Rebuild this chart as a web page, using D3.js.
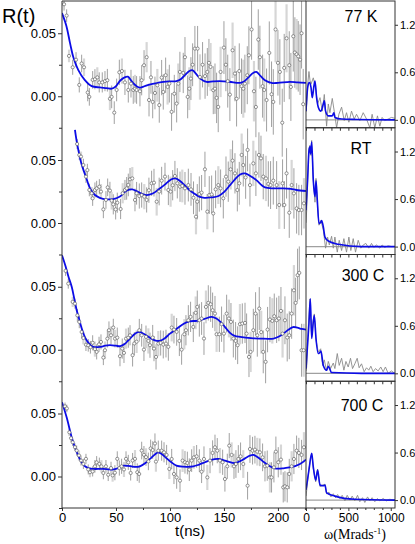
<!DOCTYPE html>
<html>
<head>
<meta charset="utf-8">
<script src="https://cdn.jsdelivr.net/npm/d3@7"></script>
<style>
  body { margin: 0; background: #fff; }
  svg { display: block; font-family: Arial, "Liberation Sans", sans-serif; }
</style>
</head>
<body>
<div id="chart"></div>
<script>
// sample labels, one per stacked row
const samples = ['77 K', 'RT', '300 C', '700 C']

// R(t) data points: [t (ns), R x 1000, error x 1000]
const pts77 = [[1.9,73,5],[4.3,64,5],[6.5,32,5],[9.9,23,6],[13,29,6],[16,9,6],[18.2,26,7],[20.4,23,7],[23.8,3,7],[25.3,-0.5,7],[28.4,13,7],[30.5,13.5,8],[32.7,15,8],[34.5,11,8],[37.3,11,8],[39.8,12,8],[42,12.7,9],[44.4,-2,9],[46,-0.5,9],[48.4,-13,9],[50.6,5,9],[53.1,19,10],[55.5,20,10],[58.3,11,10],[61.4,5,10],[63.9,10,11],[66,5,11],[67.6,6,11],[69.1,5,11],[72.2,4,12],[73.8,12.7,12],[76,24.6,12],[78.4,31,12],[80.6,-3,13],[82.4,15,13],[84,-4.5,13],[86.1,2.6,13],[88.3,8.7,13],[90.1,-7,14],[92.3,14.8,14],[93.8,3.4,14],[96,16.7,14],[97.8,7.4,14],[99.4,10,15],[101.5,-12.4,15],[104,2,15],[106.2,-5.8,15],[107.7,10,16],[109.2,19.3,16],[112.3,18.5,16],[113.9,31,16],[116.4,-0.5,17],[117.9,6,17],[119.4,14,17],[121,25,17],[123.1,37.8,18],[125.6,37.8,18],[127.8,15.3,18],[130.2,25,18],[132.5,16,18],[134.6,19.3,19],[136.1,26.5,19],[137.6,23.3,19],[140.1,4.8,19],[141.7,6,20],[143.2,-1.3,20],[144.7,-8.5,20],[146.9,19.3,20],[150,38.6,21],[151.8,25,21],[153.5,12,21],[155.5,1.3,21],[158,36.5,22],[160.2,18,22],[161.7,-2,22],[164.2,20,22],[166.3,8,22],[167.9,6,23],[169.4,10,23],[171.6,16.7,23],[173.1,32.5,23],[175.6,53,24],[177.8,4,24],[179.6,-8.5,24],[181.8,45,24],[183.3,31,25],[185.8,8,25],[187.3,5,25],[189.5,-3,25],[192,34.4,25],[194.1,1.6,26],[195.7,-4.5,26],[197.8,53,26],[200,26.5,26],[201.8,19.3,26],[204,-21,27],[205.8,22.5,27],[208,46,27],[210.5,24.6,27],[212,7.4,27],[214.2,47.6,28],[215.7,34.7,28],[217.3,33.3,28],[218.8,31.7,28],[220.5,29,28],[221.9,50,28],[223.4,-6.3,28]]
const ptsRT = [[14,62.7,4],[16,54,4],[17.6,52.7,4],[19.8,46,5],[22.2,36.8,5],[23.5,42,5],[25.3,26.2,5],[27.5,23.6,5],[28.4,19.6,6],[30.5,26.2,6],[32.1,27.5,6],[34.6,28.8,6],[36.1,24.9,6],[38.3,10.8,7],[40.7,18.3,7],[42.3,28.3,7],[44.4,25.7,7],[46,17.7,7],[47.5,14.8,8],[49.7,10.8,8],[51.2,16.1,8],[54.3,11.1,8],[56.2,23.6,8],[58.3,26.2,8],[59.9,27.5,9],[61.4,30.2,9],[63,34.7,9],[65.1,35.4,9],[67.6,18.3,9],[69.1,23.6,9],[71.6,21.4,10],[73.8,22.2,10],[76.2,20.9,10],[78.4,18.3,10],[80.5,26,10],[83,31.5,10],[85.2,32,11],[87.7,16.9,11],[90,25,11],[92.3,33.6,11],[95.4,36.8,11],[98.5,26.2,12],[100.6,24.9,12],[102.5,30,12],[104.6,37.3,12],[106.8,31.5,12],[109.3,28.8,12],[111.4,29.4,13],[113.9,27.5,13],[117,30.1,13],[119.5,26.7,13],[121.8,20,13],[124.1,5,14],[125.3,16.9,14],[127.2,23,14],[129.3,24.1,14],[132.4,42.6,14],[134.6,9,14],[136.4,22.2,15],[138.6,22.7,15],[140.1,7.6,15],[142.3,26.7,15],[144.8,30.1,15],[146.9,27.5,15],[149.4,19.6,16],[151.9,36.8,16],[154,32.8,16],[156.2,42.6,16],[158,49.5,16],[160.2,39.4,16],[162.4,26.2,17],[164.2,31.5,17],[166.4,54,17],[167.9,46,17],[170.1,36.2,17],[171.9,58,17],[174.1,30.1,17],[177.2,47.3,18],[179.6,39.4,18],[182.4,54,18],[184.3,51.3,18],[186.4,36.8,18],[188.9,35.4,18],[191.1,31,18],[193.2,30.1,19],[195.7,33.6,19],[198.8,30.1,19],[201.2,14.3,19],[204.3,31.5,19],[205.9,14.3,19],[208,39.4,20],[210.5,8.2,20],[212.7,30.1,20],[214.8,23.5,20],[217.3,11.6,20],[219.4,10.3,20],[221.9,10.3,20],[224.1,15.6,20]]
const pts300 = [[3.3,62.6,4],[5.8,52.5,4],[9.9,38,4],[12,36.6,4],[14.2,27.3,5],[16,22.1,5],[18.2,14.1,5],[19.8,9.3,5],[22.2,4,5],[24.3,3.5,5],[26.3,2,5],[28.4,5.5,6],[30.5,0.5,6],[32.1,-1.7,6],[34.3,4.3,6],[36.1,6.2,6],[38.3,-6.2,6],[39.8,-0.4,7],[42,8.8,7],[43.5,15.5,7],[45.4,11.5,7],[47.5,17.6,7],[49.1,8.8,7],[51.2,9.6,8],[53.7,-5.1,8],[55.8,0.9,8],[57.4,-2.5,8],[59.3,8.8,8],[61.4,9.6,8],[63,11.5,8],[65.4,-4.3,9],[67,5,9],[69.1,6.4,9],[71.6,15.5,9],[73.8,11.5,9],[75.9,0.1,9],[77.8,10.2,9],[80,7,10],[81.5,3.6,10],[84,9.7,10],[85.2,0.9,10],[87.1,-5.7,10],[89.2,4.9,10],[91.4,5.4,10],[93.8,4.1,11],[96.3,4.9,11],[98.5,2.3,11],[101.6,17.6,11],[103.7,16,11],[106.2,14.2,11],[108.7,7,12],[110.8,0.1,12],[113.3,12.3,12],[114.8,15.5,12],[117,23.4,12],[119.1,26.1,12],[121.6,18.1,12],[123.8,29.3,13],[125.3,34,13],[127.2,23.4,13],[129.3,24.8,13],[131.5,8.9,13],[133.3,34,13],[135.5,37.2,14],[137.7,36.1,14],[139.5,31.4,14],[141.7,28.7,14],[143.2,12.3,14],[145.7,12.3,14],[147.8,20.3,14],[150,12.8,15],[152.5,28.7,15],[154.6,24.8,15],[156.5,22.1,15],[158.7,8.9,15],[160.8,7,15],[162.7,3.6,15],[164.8,20.3,16],[167,20.8,16],[169.5,21.3,16],[171,12.8,16],[173.2,-5.7,16],[174.7,-1.7,16],[177.2,15.5,17],[179.3,28.7,17],[180.9,11.5,17],[182.7,32.7,17],[184.5,14,17],[186.4,-1.7,17],[188.6,-9.6,17],[190.4,16,18],[192.6,24,18],[194.8,22.9,18],[196.6,26.6,18],[198.8,23.4,18],[200.9,24.8,18],[202.8,30.8,19],[204.3,12.8,19],[206.5,23.4,19],[208.6,9.7,19],[210.5,11.5,19],[212.7,28.7,20],[214.8,47.2,20],[216.4,37.2,20],[218.2,59.2,21],[219.8,61,21],[221.9,-0.4,21],[223.8,-0.4,21]]
const pts700 = [[2.8,55.7,3],[4.5,54,3],[6.8,35.1,3],[8.4,30.4,3],[9.9,27.2,3],[12,23.3,3],[13.6,20.6,4],[15.7,16.7,4],[17.6,12.7,4],[19.8,10,4],[22.2,14,4],[24.3,5.6,4],[25.9,3.4,4],[28.4,4,4],[30.5,8.1,5],[32.1,11.2,5],[34.6,10,5],[36.5,8,5],[38.3,2.8,5],[40.7,8.1,5],[42.8,1.4,5],[45.4,6.7,5],[46.9,0.9,5],[49,3,6],[51.2,14,6],[53.1,6.7,6],[55.2,8.1,6],[57.4,5.6,6],[59.3,14,6],[61.4,11.2,6],[63.6,2.8,6],[65.4,12.7,6],[67.6,14,7],[69.7,3.4,7],[71.5,2,7],[73.8,20.6,7],[75.9,17.2,7],[77.8,15.4,7],[80,12,7],[82.1,22.3,7],[84,21,7],[86.1,26.2,8],[87,11.8,8],[89.2,20.5,8],[92.3,20.5,8],[94.5,19.2,8],[96.9,17.1,8],[99.4,6,8],[101.6,13.9,8],[103.7,2,8],[106.2,-0.7,9],[109.3,-3.3,9],[111.7,12.6,9],[113.9,11.3,9],[116.1,10.7,9],[117.9,5.4,9],[120.1,12.6,9],[122.2,15.2,9],[124.7,16,9],[127.2,12.6,9],[129.3,3.8,9],[131.5,13.9,10],[134.6,-0.7,10],[137.1,12.6,10],[139.5,18.7,10],[141.7,23.2,10],[143.8,20.5,10],[146.3,12.6,10],[148.8,11.3,10],[150.9,-2,10],[153.1,8.1,10],[154.9,24.5,10],[157.1,17.1,10],[159.3,8.1,10],[161.1,9.9,11],[163.3,13.9,11],[165.4,16,11],[167.9,9.9,11],[171.9,-7.3,11],[174.1,21.8,11],[176.5,20.5,11],[178.7,21.3,11],[180.9,19.7,11],[183.3,19.2,11],[185.8,15.2,11],[188,8.1,12],[190.1,8.6,12],[192.6,-0.7,12],[194.1,-0.7,12],[196.3,7.3,12],[198.1,19.7,12],[200.3,11.3,12],[202.8,13.4,12],[204.9,-8.6,12],[206.5,-7.8,12],[208.6,-8.6,12],[210.5,2,12],[212.7,8.1,12],[214.8,13.9,12],[217.3,20.5,12],[219.4,18.7,12],[221.9,17.1,12],[224.1,23.2,12]]

// fitted R(t) curves: [t, R x 1000]
const fit77 = [[0,66],[4,56],[7.5,42],[10.5,31],[15,21],[21,13],[27.5,8],[35,7],[41,6.5],[46,6],[49.5,7.5],[54,12.5],[58,15],[61,15.5],[64,12.5],[67,9.5],[71,7],[74,7.2],[78,8.5],[82,9.5],[88,10.5],[94,11.4],[100,11.8],[106,12],[110,13.5],[114,17],[118,20],[121,20.6],[124,18],[128,14],[134,11.4],[140,11.8],[146,12],[155,11.5],[165,10.6],[169,12],[173,15.3],[177,18.5],[180,19.3],[184,16],[188,12.7],[194,10.6],[200,10.6],[211,11.4],[218,11],[226,10.6]]
const fitRT = [[12,74],[14,63],[18,47],[22,37],[26,27.5],[30.5,22.2],[35,20],[41,18.8],[47.5,19],[53.7,21],[58,24.5],[62,26.5],[65,26.7],[69,25.3],[72,24],[78,22.2],[84,23.4],[90,27],[96,31],[101,34.5],[105,35.4],[109,33.5],[113,30.5],[117,27],[122,23.6],[127,21],[132,20],[138,20.3],[145,21.4],[150,24.5],[155.6,30],[160,34.5],[165,38.5],[169.5,39.4],[174,37.5],[180,34],[185,30],[188,28.3],[195,27.5],[205,27.5],[212,27],[217,26.2],[226,25.4]]
const fit300 = [[0,75],[3.5,65.7],[6,58],[9,50],[11.5,40],[13.6,31.3],[16,24],[18.2,17],[20.5,11.5],[22.8,7.5],[26,4],[29,2.2],[35,2.2],[40,3.2],[44.4,3.6],[50,3.2],[54,2.8],[58,4.5],[61.4,7.5],[66,11.5],[69,13.5],[72,14.1],[76,12.5],[81.5,9.5],[86,7.5],[90,7],[95,9],[100,12.8],[106,16.5],[112,20.3],[118,22.5],[125,23],[132,24.5],[138.6,26.1],[143,24.8],[147,22],[151,18],[155.6,13.4],[160,11],[165,10.2],[175,9.2],[183,8.9],[196,8.9],[201,10.5],[205,12.8],[210,16],[214,18],[218,17.5],[222,16.5],[226,16]]
const fit700 = [[0,59],[4.3,47],[9,31],[12,23],[15.1,16.5],[18,11.5],[21.3,8.1],[25,6.5],[28.9,6],[38,6],[44,5.6],[48,5.6],[53,7],[57,8.6],[61,8.4],[64.4,8],[68,7.6],[72.2,8.1],[77,10.5],[81.5,14],[86,17.5],[89.2,19.2],[93,17.5],[97,14.4],[101,11.5],[106,8.6],[112,7.8],[121.6,8.1],[127,9.5],[132.4,11.3],[139,13.4],[144.8,13.9],[150,12.8],[154,11.8],[160,10.7],[165,12.2],[169.5,14.4],[174,16.5],[177.2,17.1],[181,15.5],[186.4,11.8],[191,9],[197,6.5],[205,6.5],[211,7.3],[216,8.3],[220.4,9.9],[226,13.4]]

// frequency spectra: [omega (Mrad/s), amplitude]
const ftData77 = [[0,0.1],[8,0.2],[20,0.45],[35,0.61],[47,0.5],[59,0.45],[86,0.53],[114,0.39],[137,0.2],[165,0.28],[192,0.11],[216,0.32],[243,-0.08],[263,0.2],[282,0.09],[310,0.27],[333,0.11],[361,-0.1],[388,0.07],[420,0.16],[451,-0.01],[478,0.09],[506,-0.03],[537,0.11],[569,0.01],[596,0.07],[635,-0.01],[675,0.09],[714,0.01],[753,-0.1],[780,0.07],[812,-0.1],[843,0.05],[871,-0.08],[898,0.03],[929,-0.01],[969,0.01],[1008,0.03],[1047,0.02]]
const ftFit77 = [[0,0.11],[20,0.41],[39,0.47],[59,0.41],[74,0.28],[94,0.43],[106,0.49],[125,0.28],[145,0.16],[176,0.11],[204,0.2],[216,0.24],[231,0.11],[263,0.05],[310,0.05],[329,0.09],[341,0.03],[420,0.01],[600,0.005],[1050,0]]
const ftDataRT = [[0,0.3],[8,0.46],[20,0.88],[35,1.24],[47,1.28],[59,1.15],[67,1.34],[86,0.84],[106,0.56],[118,0.86],[133,0.56],[153,0.27],[176,0.33],[204,0.21],[231,-0.02],[255,0.12],[275,0.02],[302,0.13],[322,-0.02],[341,0.12],[369,-0.07],[392,0.08],[420,-0.05],[447,0.1],[478,-0.07],[506,0.12],[529,-0.05],[557,0.1],[584,-0.07],[616,0.08],[647,-0.02],[675,0.02],[706,0.04],[741,-0.02],[773,0.04],[800,-0.01],[831,0.02],[871,-0.02],[898,0.02],[929,-0.01],[969,0.01],[1008,0],[1047,0]]
const ftFitRT = [[0,0.46],[19,0.84],[35,1.21],[47,1.26],[55,1.17],[67,1.32],[86,0.84],[106,0.63],[118,0.83],[133,0.59],[153,0.29],[170,0.3],[184,0.33],[204,0.25],[224,0.12],[263,0.07],[380,0.03],[655,0],[1050,0]]
const ftData300 = [[0,0.03],[8,0.08],[27,0.59],[47,0.94],[67,0.46],[86,0.67],[98,0.75],[118,0.42],[145,0.27],[173,0.31],[196,0.1],[216,0.17],[243,0.03],[263,0.15],[290,0.06],[322,0.13],[341,0.06],[369,0.25],[392,0.1],[420,0.19],[447,0.04],[471,0.15],[498,0.08],[525,0.19],[549,0.06],[576,0.12],[604,0.19],[627,0.07],[655,0.12],[686,0.02],[714,0.07],[741,0.04],[765,0.09],[792,0.02],[820,0.06],[851,0.03],[882,0.08],[910,0.02],[937,0.08],[969,0],[1008,0.03],[1047,0]]
const ftFit300 = [[0,0.06],[35,0.63],[51,0.94],[67,0.44],[86,0.65],[98,0.73],[118,0.44],[145,0.25],[160,0.26],[176,0.28],[204,0.1],[243,0.04],[263,0.09],[302,0.01],[655,0],[1050,0]]
const ftData700 = [[0,0.05],[8,0.12],[35,0.4],[67,0.59],[86,0.4],[114,0.23],[137,0.39],[165,0.17],[196,0.19],[224,0.2],[243,0.08],[271,0.1],[294,0.04],[322,0.08],[349,0.03],[373,0.07],[400,0.02],[427,0.06],[459,-0.01],[486,0.06],[518,0],[545,0.05],[576,-0.01],[608,0.06],[635,-0.02],[667,0.03],[694,-0.03],[726,0.04],[753,-0.01],[780,0.03],[812,-0.02],[843,0.02],[871,-0.01],[910,0.02],[949,-0.01],[988,0.01],[1047,0]]
const ftFit700 = [[0,0.13],[35,0.38],[67,0.59],[86,0.42],[114,0.25],[137,0.38],[165,0.19],[204,0.18],[224,0.19],[243,0.09],[341,0.05],[576,0.01],[1050,0]]

// ticks
const tTicks = [0, 50, 100, 150, 200]
const tMinor = [25, 75, 125, 175, 225]
const rTicks = [0, 0.05]
const rMinor = [-0.025, 0.025]
const wTicks = [0, 500, 1000]
const wMinor = [100, 200, 300, 400, 600, 700, 800, 900]
const ampTicks = [0, 0.6, 1.2]

const rows = [
  {name: samples[0], pts: pts77, fit: fit77, ft: ftData77, ftFit: ftFit77, lx: 361, ly: 22},
  {name: samples[1], pts: ptsRT, fit: fitRT, ft: ftDataRT, ftFit: ftFitRT, lx: 361, ly: 154},
  {name: samples[2], pts: pts300, fit: fit300, ft: ftData300, ftFit: ftFit300, lx: 363, ly: 281},
  {name: samples[3], pts: pts700, fit: fit700, ft: ftData700, ftFit: ftFit700, lx: 362, ly: 411}
]

const svgW = 415
const svgH = 544
const xLeft = 62
const xMid = 306
const xRight = 395
const yTop = 1
const yBottom = 508
const bandH = (yBottom - yTop) / rows.length
const axisColor = '#333'
const blue = '#0c0ce6'

const svg = d3.select('#chart')
  .append('svg')
  .attr('width', svgW)
  .attr('height', svgH)

const x = d3.scaleLinear().domain([0, 226]).range([xLeft, xMid])
const w = d3.scaleLinear().domain([0, 1050]).range([xMid, xRight])

const defs = svg.append('defs')
defs.append('clipPath').attr('id', 'clip-left')
  .append('rect')
  .attr('x', xLeft).attr('y', yTop)
  .attr('width', xMid - xLeft).attr('height', yBottom - yTop)

const styleAxis = (g, size) => {
  g.attr('color', axisColor)
    .attr('font-size', size)
    .attr('font-family', 'Arial, "Liberation Sans", sans-serif')
  g.select('.domain').remove()
  g.selectAll('text').attr('fill', '#000')
}

rows.forEach((row, i) => {
  const y0 = yTop + i * bandH
  const y = d3.scaleLinear().domain([-0.025, 0.0756]).range([y0 + bandH, y0])
  const ya = d3.scaleLinear().domain([-0.1, 1.5]).range([y0 + bandH, y0])

  // left: R(t)
  const gl = svg.append('g').attr('clip-path', 'url(#clip-left)')

  gl.append('g')
    .selectAll('line')
    .data(row.pts)
    .join('line')
    .attr('x1', d => x(d[0]))
    .attr('x2', d => x(d[0]))
    .attr('y1', d => y((d[1] - d[2]) / 1000))
    .attr('y2', d => y((d[1] + d[2]) / 1000))
    .attr('stroke', (d, j) => j % 5 === 2 ? '#d6d6d6' : '#a0a0a0')
    .attr('stroke-width', (d, j) => j % 5 === 2 ? 2.2 : 1)

  gl.append('path')
    .datum(row.fit)
    .attr('fill', 'none')
    .attr('stroke', blue)
    .attr('stroke-width', 1.8)
    .attr('d', d3.line()
      .x(d => x(d[0]))
      .y(d => y(d[1] / 1000))
      .curve(d3.curveCatmullRom.alpha(0.5)))

  gl.append('g')
    .selectAll('circle')
    .data(row.pts)
    .join('circle')
    .attr('cx', d => x(d[0]))
    .attr('cy', d => y(d[1] / 1000))
    .attr('r', 1.6)
    .attr('fill', '#fff')
    .attr('stroke', '#666')
    .attr('stroke-width', 0.7)

  svg.append('g')
    .attr('transform', `translate(${xLeft},0)`)
    .call(d3.axisLeft(y).tickValues(rTicks).tickFormat(d3.format('.2f')).tickSize(4).tickPadding(2))
    .call(g => styleAxis(g, 13))

  svg.append('g')
    .attr('transform', `translate(${xLeft},0)`)
    .call(d3.axisLeft(y).tickValues(rMinor).tickFormat('').tickSize(3))
    .call(g => styleAxis(g, 13))

  // right: frequency spectrum
  const clipId = `clip-ft-${i}`
  defs.append('clipPath').attr('id', clipId)
    .append('rect')
    .attr('x', xMid).attr('y', y0)
    .attr('width', xRight - xMid).attr('height', bandH)

  const gr = svg.append('g').attr('clip-path', `url(#${clipId})`)

  gr.append('line')
    .attr('x1', xMid).attr('x2', xRight)
    .attr('y1', ya(0)).attr('y2', ya(0))
    .attr('stroke', '#a0a0a0')
    .attr('stroke-width', 1.4)

  gr.append('path')
    .datum(row.ft)
    .attr('fill', 'none')
    .attr('stroke', '#8a8a8a')
    .attr('stroke-width', 0.9)
    .attr('d', d3.line().x(d => w(d[0])).y(d => ya(d[1])))

  gr.append('path')
    .datum(row.ftFit)
    .attr('fill', 'none')
    .attr('stroke', blue)
    .attr('stroke-width', 1.6)
    .attr('d', d3.line().x(d => w(d[0])).y(d => ya(d[1])).curve(d3.curveMonotoneX))

  svg.append('rect')
    .attr('x', xMid).attr('y', y0)
    .attr('width', xRight - xMid).attr('height', bandH)
    .attr('fill', 'none')
    .attr('stroke', axisColor)

  svg.append('g')
    .attr('transform', `translate(${xRight},0)`)
    .call(d3.axisRight(ya).tickValues(ampTicks).tickFormat(d3.format('.1f')).tickSize(3).tickPadding(2))
    .call(g => styleAxis(g, 11))

  if (i < rows.length - 1) {
    svg.append('g')
      .attr('transform', `translate(0,${y0 + bandH})`)
      .call(d3.axisBottom(w).tickValues(wMinor.concat(wTicks)).tickFormat('').tickSize(3))
      .call(g => styleAxis(g, 11))
  }

  svg.append('text')
    .attr('x', row.lx)
    .attr('y', row.ly)
    .attr('text-anchor', 'middle')
    .attr('font-size', 16)
    .text(row.name)
})

// frame of the left panel
svg.append('line')
  .attr('x1', xLeft).attr('x2', xLeft)
  .attr('y1', yTop).attr('y2', yBottom)
  .attr('stroke', axisColor)
svg.append('line')
  .attr('x1', xLeft).attr('x2', xMid)
  .attr('y1', yTop).attr('y2', yTop)
  .attr('stroke', axisColor)

svg.append('g')
  .attr('transform', `translate(0,${yBottom})`)
  .call(d3.axisBottom(x).tickValues(tTicks).tickFormat(d3.format('d')).tickSize(3).tickPadding(2))
  .call(g => styleAxis(g, 13))
svg.append('g')
  .attr('transform', `translate(0,${yBottom})`)
  .call(d3.axisBottom(x).tickValues(tMinor).tickFormat('').tickSize(2))
  .call(g => styleAxis(g, 13))
svg.append('line')
  .attr('x1', xLeft).attr('x2', xMid)
  .attr('y1', yBottom).attr('y2', yBottom)
  .attr('stroke', axisColor)

svg.append('g')
  .attr('transform', `translate(0,${yBottom})`)
  .call(d3.axisBottom(w).tickValues(wTicks).tickFormat(d3.format('d')).tickSize(3).tickPadding(2))
  .call(g => styleAxis(g, 12))
svg.append('g')
  .attr('transform', `translate(0,${yBottom})`)
  .call(d3.axisBottom(w).tickValues(wMinor).tickFormat('').tickSize(2))
  .call(g => styleAxis(g, 12))

// titles
svg.append('text')
  .attr('x', 2)
  .attr('y', 23)
  .attr('font-size', 20)
  .text('R(t)')

svg.append('text')
  .attr('x', 190)
  .attr('y', 536)
  .attr('text-anchor', 'middle')
  .attr('font-size', 15)
  .text('t(ns)')

const wLabel = svg.append('text')
  .attr('x', 355)
  .attr('y', 539)
  .attr('text-anchor', 'middle')
  .attr('font-size', 14)
  .attr('font-family', '"Liberation Serif", "Times New Roman", serif')
wLabel.append('tspan').text('ω(Mrads')
wLabel.append('tspan').attr('dy', -5).attr('font-size', 9).text('-1')
wLabel.append('tspan').attr('dy', 5).text(')')
</script>
</body>
</html>
